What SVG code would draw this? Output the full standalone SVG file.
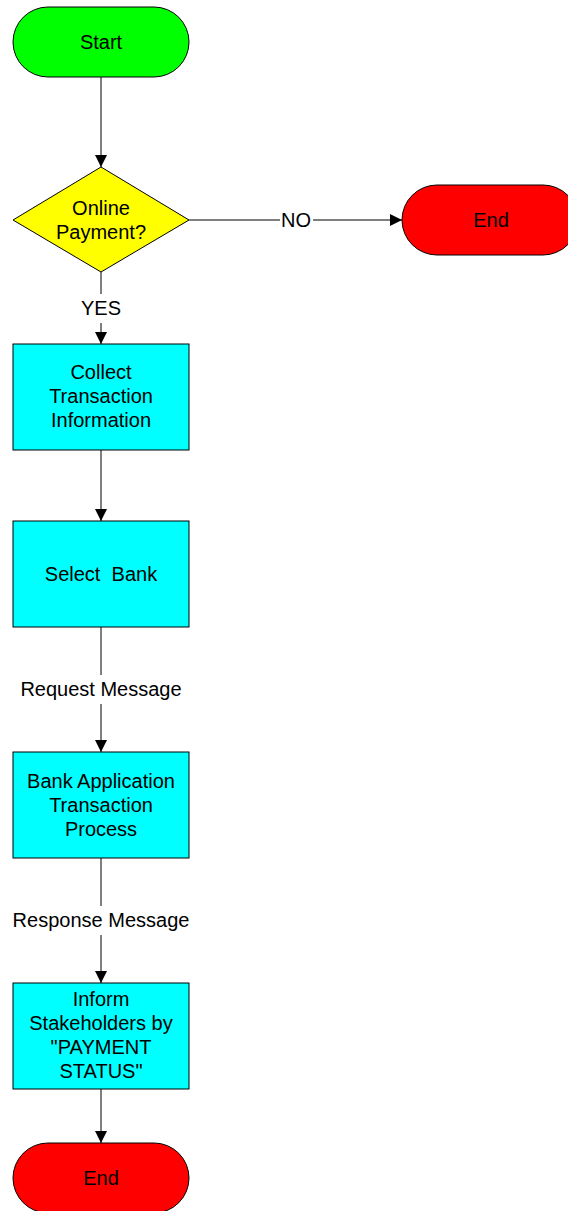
<svg xmlns="http://www.w3.org/2000/svg" width="568" height="1211" viewBox="0 0 568 1211">
<style>
text{font-family:"Liberation Sans",Arial,sans-serif;font-size:20px;fill:#000;text-anchor:middle;dominant-baseline:central}
.n{stroke:#000;stroke-width:1}
.c{stroke:#000;stroke-width:1;fill:none;marker-end:url(#ah)}
.p{stroke:#000;stroke-width:1;fill:none}
</style>
<defs>
<marker id="ah" viewBox="0 0 12 12" refX="12" refY="6" markerWidth="12" markerHeight="12" markerUnits="userSpaceOnUse" orient="auto">
<path d="M0,0 L12,6 L0,12 Z" fill="#000"/>
</marker>
</defs>
<g id="connectors">
<line class="c" x1="101" y1="77" x2="101" y2="167"/>
<line class="p" x1="189" y1="220" x2="280" y2="220"/>
<line class="c" x1="313" y1="220" x2="402" y2="220"/>
<line class="p" x1="101" y1="272" x2="101" y2="294"/>
<line class="c" x1="101" y1="323" x2="101" y2="344"/>
<line class="c" x1="101" y1="450" x2="101" y2="521"/>
<line class="p" x1="101" y1="627" x2="101" y2="675"/>
<line class="c" x1="101" y1="704" x2="101" y2="752"/>
<line class="p" x1="101" y1="858" x2="101" y2="906"/>
<line class="c" x1="101" y1="935" x2="101" y2="983"/>
<line class="c" x1="101" y1="1089" x2="101" y2="1143"/>
<text x="296" y="220">NO</text>
<text x="101" y="308">YES</text>
<text x="101" y="689">Request Message</text>
<text x="101" y="920">Response Message</text>
</g>
<g id="start">
<rect class="n" x="13" y="7" width="176" height="70" rx="35" fill="#00ff00"/>
<text x="101" y="42">Start</text>
</g>
<g id="decision">
<polygon class="n" points="101,167 189,220 101,272 13,220" fill="#ffff00"/>
<text x="101" y="208">Online</text>
<text x="101" y="232">Payment?</text>
</g>
<g id="end1">
<rect class="n" x="402" y="185" width="176" height="70" rx="35" fill="#ff0000"/>
<text x="491" y="220">End</text>
</g>
<g id="collect">
<rect class="n" x="13" y="344" width="176" height="106" fill="#00ffff"/>
<text x="101" y="372">Collect</text>
<text x="101" y="396">Transaction</text>
<text x="101" y="420">Information</text>
</g>
<g id="select">
<rect class="n" x="13" y="521" width="176" height="106" fill="#00ffff"/>
<text x="101" y="574" xml:space="preserve">Select  Bank</text>
</g>
<g id="bankapp">
<rect class="n" x="13" y="752" width="176" height="106" fill="#00ffff"/>
<text x="101" y="781">Bank Application</text>
<text x="101" y="805">Transaction</text>
<text x="101" y="829">Process</text>
</g>
<g id="inform">
<rect class="n" x="13" y="983" width="176" height="106" fill="#00ffff"/>
<text x="101" y="999">Inform</text>
<text x="101" y="1023">Stakeholders by</text>
<text x="101" y="1047">"PAYMENT</text>
<text x="101" y="1071">STATUS"</text>
</g>
<g id="end2">
<rect class="n" x="13" y="1143" width="176" height="70" rx="35" fill="#ff0000"/>
<text x="101" y="1178">End</text>
</g>
</svg>
